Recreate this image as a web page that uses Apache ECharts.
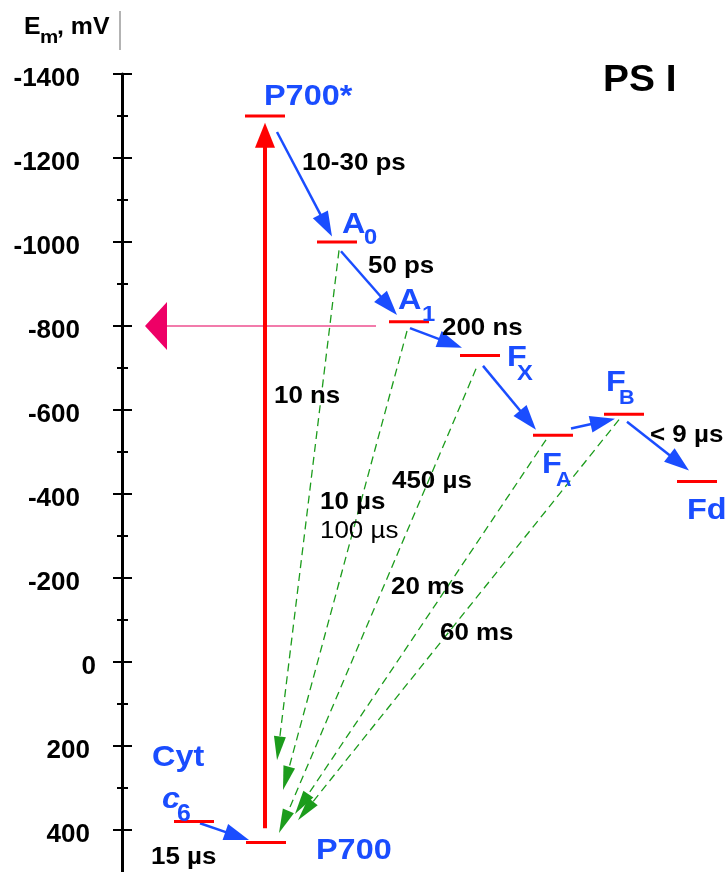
<!DOCTYPE html>
<html><head><meta charset="utf-8">
<script src="https://cdn.jsdelivr.net/npm/echarts@6/dist/echarts.min.js"></script>
<style>html,body{margin:0;padding:0;background:#fff}#c{width:727px;height:872px}</style>
</head><body><div id="c"></div>
<script>
// ---- data ----
const tickValues = [-1400,-1200,-1000,-800,-600,-400,-200,0,200,400];
const minorTickValues = [-1300,-1100,-900,-700,-500,-300,-100,100,300];

// energy levels (horizontal position on a schematic axis, midpoint potential in mV)
const levelNames = ['P700*','A0','A1','FX','FA','FB','Fd','P700','c6'];
const levelX = [265,337,409,480,553,624,697,266,194];
const levelE = [-1300,-1000,-810,-730,-540,-590,-430,430,380];

// forward electron transfer (blue arrows)
const fwdFromX = [277,341,410,483,571,627,200];
const fwdFromE = [-1262,-978,-795,-705,-556,-572,384];
const fwdToX   = [332,397,462,536,615,689,249];
const fwdToE   = [-1013,-826,-748,-553,-579,-456,424];

// charge recombination back to P700 (green dashed arrows)
const recFromX = [339,407,476,546,619];
const recFromE = [-980,-788,-698,-529,-577];
const recToX   = [277,283,279,295,298];
const recToE   = [234,305,407,362,377];

// excitation (red) and exit (pink) arrows
const excFrom = [265,396], excTo = [265,-1284];
const outFrom = [376,-800], outTo = [145,-800];

// time constants
const timeTexts = ['10-30 ps','50 ps','200 ns','10 ns','10 µs','450 µs','20 ms','60 ms','< 9 µs','15 µs'];
const timeX = [302,368,442,274,320,392,391,440,650,151];
const timeE = [-1188,-943,-794,-633,-380,-430,-178,-69,-540,466];
const thinTexts = ['100 µs'];
const thinX = [320];
const thinE = [-310];

// component labels (main glyphs + subscripts)
const nameTexts = ['P700*','A','A','F','F','F','Fd','P700','Cyt'];
const nameX = [264,342,398,507,542,606,687,316,152];
const nameE = [-1345,-1040,-860,-724,-470,-665,-361,450,227];
const subTexts = ['0','1','X','A','B'];
const subX = [364,422,517,556,619];
const subE = [-1009,-826,-687,-433,-627];
const subSizes = [22,22,22,20,20];

// ---- styles ----
const FONT = '"Liberation Sans", Arial, sans-serif';
const STRETCH = 1.08;
const BLUE = '#1a4dff', RED = '#ff0000', GREEN = '#1c9c1c';

function arrowRender(color, lw, headLen, headW, dash, headColor) {
  return function (params, api) {
    const p0 = api.coord([api.value(0), api.value(1)]);
    const p1 = api.coord([api.value(2), api.value(3)]);
    const dx = p1[0]-p0[0], dy = p1[1]-p0[1];
    const len = Math.hypot(dx, dy) || 1;
    const ux = dx/len, uy = dy/len, nx = -uy, ny = ux;
    const bx = p1[0]-ux*headLen, by = p1[1]-uy*headLen;
    return {type:'group', children:[
      {type:'line', shape:{x1:p0[0], y1:p0[1], x2:bx+ux*2, y2:by+uy*2},
       style:{stroke:color, lineWidth:lw, lineDash:dash || null}},
      {type:'polygon', shape:{points:[[p1[0],p1[1]],[bx+nx*headW/2,by+ny*headW/2],[bx-nx*headW/2,by-ny*headW/2]]},
       style:{fill:headColor || color}}
    ]};
  };
}
function arrowSeries(fx, fe, tx, te, color, lw, hl, hw, dash, z, headColor) {
  return {type:'custom', coordinateSystem:'cartesian2d', silent:true, z:z, animation:false,
    data: fx.map((x,i)=>[x, fe[i], tx[i], te[i]]),
    encode:{x:[0,2], y:[1,3]},
    renderItem: arrowRender(color, lw, hl, hw, dash, headColor)};
}
function textSeries(texts, xs, es, color, size, weight, z, sizes, style) {
  return {type:'custom', coordinateSystem:'cartesian2d', silent:true, z:z, animation:false,
    data: xs.map((x,i)=>[x, es[i]]),
    renderItem: function (params, api) {
      const p = api.coord([api.value(0), api.value(1)]);
      return {type:'text', x:p[0], y:p[1], scaleX:STRETCH,
        style:{text:texts[params.dataIndex], x:0, y:0, align:'left', verticalAlign:'middle',
          fill:color, fontSize: sizes ? sizes[params.dataIndex] : size, fontWeight:weight,
          fontFamily:FONT, fontStyle:(style||'normal')}};
    }};
}

const tickLabelStyle = {fontSize:26, fontWeight:'bold', color:'#000', fontFamily:FONT};
function yAx(extra) {
  return Object.assign({type:'value', inverse:true, min:-1400, max:500, position:'left', offset:0,
    splitLine:{show:false}, axisLine:{show:false}, axisLabel:{show:false}}, extra);
}

const chart = echarts.init(document.getElementById('c'), null, {renderer:'canvas'});
chart.setOption({
  animation:false,
  backgroundColor:'#fff',
  grid:{left:122, right:0, top:74, bottom:-3},
  xAxis:{type:'value', min:122, max:727, show:false},
  yAxis:[
    yAx({axisLine:{show:true, lineStyle:{color:'#000', width:3}},
      axisTick:{show:true, customValues:tickValues, length:9, lineStyle:{color:'#000', width:2}},
      axisLabel:{show:true, customValues:tickValues, margin:26,
        formatter: v => v < 0 ? '{n|' + v + '}' : (v > 0 ? '{p|' + v + '}' : '{z|0}'),
        rich:{
          n:Object.assign({padding:[10,16,0,0]}, tickLabelStyle),
          p:Object.assign({padding:[10,6,0,0]}, tickLabelStyle),
          z:Object.assign({padding:[10,0,0,0]}, tickLabelStyle)
        }}}),
    yAx({axisTick:{show:true, inside:true, customValues:tickValues, length:10, lineStyle:{color:'#000', width:2}}}),
    yAx({axisTick:{show:true, customValues:minorTickValues, length:5, lineStyle:{color:'#000', width:2}}}),
    yAx({axisTick:{show:true, inside:true, customValues:minorTickValues, length:6, lineStyle:{color:'#000', width:2}}})
  ],
  graphic:[
    {type:'line', shape:{x1:120, y1:11, x2:120, y2:50}, style:{stroke:'#9a9a9a', lineWidth:1.5}},
    {type:'text', x:24, y:28, scaleX:STRETCH, style:{text:'E', fontSize:23, fontWeight:'bold', fontFamily:FONT, fill:'#000', verticalAlign:'middle'}},
    {type:'text', x:40, y:38, scaleX:STRETCH, style:{text:'m', fontSize:19, fontWeight:'bold', fontFamily:FONT, fill:'#000', verticalAlign:'middle'}},
    {type:'text', x:57, y:28, scaleX:STRETCH, style:{text:', mV', fontSize:23, fontWeight:'bold', fontFamily:FONT, fill:'#000', verticalAlign:'middle'}},
    {type:'text', x:603, y:81, scaleX:STRETCH, style:{text:'PS I', fontSize:36, fontWeight:'bold', fontFamily:FONT, fill:'#000', verticalAlign:'middle'}}
  ],
  series:[
    arrowSeries([outFrom[0]],[outFrom[1]],[outTo[0]],[outTo[1]], '#ee4f8f', 1.6, 22, 48, null, 1, '#ee0066'),
    arrowSeries([excFrom[0]],[excFrom[1]],[excTo[0]],[excTo[1]], RED, 4, 25, 20, null, 2),
    arrowSeries(recFromX, recFromE, recToX, recToE, GREEN, 1.3, 24, 12, [8,5], 3),
    arrowSeries(fwdFromX, fwdFromE, fwdToX, fwdToE, BLUE, 2.5, 25, 17, null, 4),
    {type:'custom', coordinateSystem:'cartesian2d', silent:true, z:5, animation:false,
      data: levelX.map((x,i)=>[x, levelE[i]]),
      renderItem: function (params, api) {
        const p = api.coord([api.value(0), api.value(1)]);
        return {type:'line', shape:{x1:p[0]-20, y1:p[1], x2:p[0]+20, y2:p[1]},
          style:{stroke:RED, lineWidth:3}};
      }},
    textSeries(timeTexts, timeX, timeE, '#000', 24, 'bold', 6),
    textSeries(thinTexts, thinX, thinE, '#000', 24, 'normal', 6),
    textSeries(nameTexts, nameX, nameE, BLUE, 30, 'bold', 6),
    textSeries(subTexts, subX, subE, BLUE, 22, 'bold', 6, subSizes),
    textSeries(['c'], [162], [328], BLUE, 30, 'bold', 6, null, 'italic'),
    textSeries(['6'], [177], [363], BLUE, 23, 'bold', 6)
  ]
});
</script>
</body></html>
